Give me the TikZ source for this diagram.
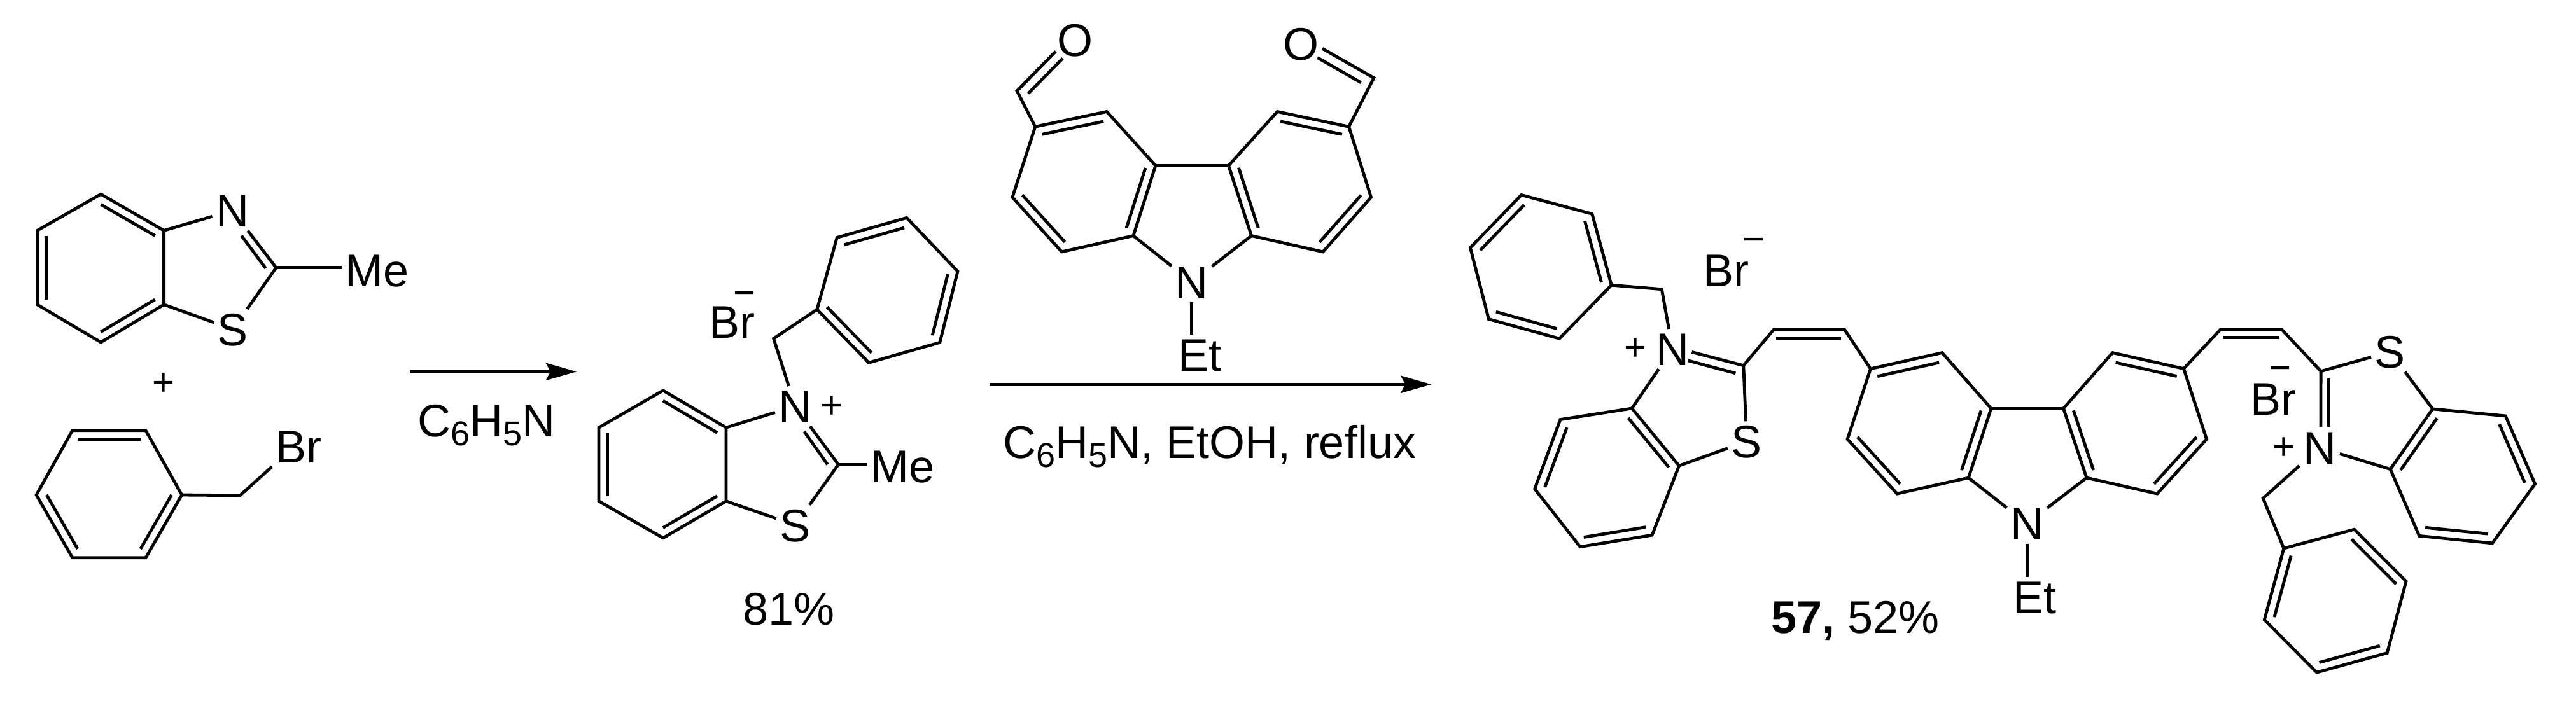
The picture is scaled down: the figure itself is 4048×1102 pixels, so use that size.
\documentclass[tikz,border=0pt]{standalone}
\usepackage{fontspec}
\setmainfont{Liberation Sans}
\usetikzlibrary{calc,arrows.meta}
% inner line of a ring double bond, on the right of a -> b
\newcommand{\dbond}[2]{\draw[bond] ($(#1)!.07!(#2)!3.5pt!-90:(#2)$) -- ($(#2)!.07!(#1)!3.5pt!90:(#1)$);}
\newcommand{\subnum}[1]{\raisebox{-3.5pt}{\fontsize{13.5pt}{14pt}\selectfont #1}}
\begin{document}
\begin{tikzpicture}[x=0.25pt,y=-0.25pt]
\tikzstyle{bond}=[draw, line width=1.2pt, line join=miter]
\tikzstyle{atom}=[font=\fontsize{18pt}{20pt}\selectfont, inner sep=1.25pt, text height=12.9pt, text depth=0pt]
\tikzstyle{charge}=[font=\fontsize{15pt}{16pt}\selectfont, inner sep=0pt, text height=10.6pt, text depth=0pt]
\tikzstyle{note}=[font=\fontsize{18pt}{20pt}\selectfont, inner sep=0pt, text height=12.9pt, text depth=0pt]
\tikzstyle{rxn}=[draw, line width=1.2pt, -{Stealth[length=12pt,width=6.75pt,inset=1.75pt]}]
\useasboundingbox (0,0) rectangle (4048,1102);

% Methylbenzothiazole
\foreach \n/\x/\y in {a1/158.5/305.3, a2/257.6/362.4, a3/257.6/478.8, a4/158.5/538, a5/58.5/478.8, a6/58.5/362.4, ac/433.9/420.8, ai1/379.5/370.6, ai2/417.4/421.6}
  \coordinate (\n) at (\x,\y);
\node[atom] (an) at (365.2,331) {N};
\node[atom] (as) at (366,517.6) {S};
\node[atom] (ame) at (592.4,424.9) {Me};
\draw[bond] (a1) -- (a2) -- (a3) -- (a4) -- (a5) -- (a6) -- cycle;
\dbond{a1}{a2}
\dbond{a3}{a4}
\dbond{a5}{a6}
\draw[bond] (a2) -- (an);
\draw[bond] (a3) -- (as);
\draw[bond] (as) -- (ac);
\draw[bond] (an) -- (ac);
\draw[bond] (ai1) -- (ai2);
\draw[bond] (ac) -- (ac -| ame.west);
\node[charge] (aplus) at (256.7,600) {+};

% Benzyl bromide
\foreach \n/\x/\y in {p1/113.8/676.7, p2/229/676.7, p3/285.7/778, p4/229/876.7, p5/113.8/876.7, p6/57.1/778, pch/377.2/778.8}
  \coordinate (\n) at (\x,\y);
\node[atom] (pbr) at (469.2,702) {Br};
\draw[bond] (p1) -- (p2) -- (p3) -- (p4) -- (p5) -- (p6) -- cycle;
\dbond{p1}{p2}
\dbond{p3}{p4}
\dbond{p5}{p6}
\draw[bond] (p3) -- (pch) -- (pbr.south west);

% First arrow
\coordinate (r1a) at (644,584.3);
\coordinate (r1b) at (906,584.3);
\draw[rxn] (r1a) -- (r1b);
\node[note] (r1t) at (764.5,660.8) {C\subnum{6}H\subnum{5}N};

% Benzothiazolium salt
\foreach \n/\x/\y in {b1/1042/613.9, b2/1141/672.2, b3/1141/787.8, b4/1042/845.7, b5/941/787.8, b6/941/672.2, bc/1317.4/730.2, bi1/1263.8/678.4, bi2/1300.4/730.2, bch/1215.6/532.2, q1/1283.9/486.5, q2/1315.2/373.5, q3/1424.8/342.4, q4/1504.9/426.5, q5/1476.8/538.4, q6/1365.2/570.2}
  \coordinate (\n) at (\x,\y);
\node[atom] (bn) at (1249.6,638.6) {N};
\node[atom] (bs) at (1249.6,825.3) {S};
\node[atom] (bme) at (1418.8,732.7) {Me};
\node[atom] (bbr) at (1150.4,505.3) {Br};
\node[charge] (bminus) at (1169.6,459.2) {−};
\node[charge] (bplus) at (1307,636.3) {+};
\draw[bond] (b1) -- (b2) -- (b3) -- (b4) -- (b5) -- (b6) -- cycle;
\dbond{b1}{b2}
\dbond{b3}{b4}
\dbond{b5}{b6}
\draw[bond] (b2) -- (bn);
\draw[bond] (b3) -- (bs);
\draw[bond] (bs) -- (bc);
\draw[bond] (bn) -- (bc);
\draw[bond] (bi1) -- (bi2);
\draw[bond] (bc) -- (bc -| bme.west);
\draw[bond] (bn) -- (bch) -- (q1);
\draw[bond] (q1) -- (q2) -- (q3) -- (q4) -- (q5) -- (q6) -- cycle;
\dbond{q2}{q3}
\dbond{q4}{q5}
\dbond{q6}{q1}
\node[note] (byield) at (1239.3,956.3) {81\%};

% Carbazole dialdehyde
\foreach \n/\x/\y in {c1/1626.8/199.2, c2/1739.2/175.5, c3/1815.8/260.4, c4/1780.9/370.6, c5/1668.4/395.9, c6/1590.9/310.2, c7/2007.2/175.5, c8/2119.6/199.2, c9/2154.5/310.2, c10/2078.9/395.9, c11/1966.5/370.6, c12/1930.6/260.4, cf1/1598.1/142.9, cf2/2158.9/122.4, co1/1658.9/80.8, ci1/1615.8/146.9, ci2/1669.9/91.8, co2/2078/76.3, ci3/2138.7/129.8, ci4/2070.3/90.6}
  \coordinate (\n) at (\x,\y);
\node[atom] (cn) at (1872.7,443.3) {N};
\node[atom] (cet) at (1885.6,558) {Et};
\node[atom] (co) at (1689.5,62.4) {O};
\node[atom] (cp) at (2044.5,68.6) {O};
\draw[bond] (c1) -- (c2) -- (c3) -- (c4) -- (c5) -- (c6) -- cycle;
\draw[bond] (c7) -- (c8) -- (c9) -- (c10) -- (c11) -- (c12) -- cycle;
\dbond{c1}{c2}
\dbond{c3}{c4}
\dbond{c5}{c6}
\dbond{c7}{c8}
\dbond{c9}{c10}
\dbond{c11}{c12}
\draw[bond] (c3) -- (c12);
\draw[bond] (c4) -- (cn);
\draw[bond] (c11) -- (cn);
\draw[bond] (cn) -- (cn |- cet.north);
\draw[bond] (c1) -- (cf1) -- (co1);
\draw[bond] (ci1) -- (ci2);
\draw[bond] (c8) -- (cf2) -- (co2);
\draw[bond] (ci3) -- (ci4);

% Second arrow
\coordinate (r2a) at (1555,604.3);
\coordinate (r2b) at (2249.3,604.3);
\draw[rxn] (r2a) -- (r2b);
\node[note] (r2t) at (1901,695) {C\subnum{6}H\subnum{5}N, EtOH, reflux};

% Product, left half
\foreach \n/\x/\y in {d1/2390.7/306.5, d2/2501.9/336.3, d3/2532.2/448.2, d4/2450.5/532.2, d5/2339.4/501.6, d6/2310.4/389.4, dch/2611.3/454.7, dc/2739.8/574.7, dq1/2658.6/553.5, dq2/2652.8/566.9, dq3/2727.3/586.9, e1/2564.4/642, e2/2638.5/732.2, e3/2596.1/841.2, e4/2483.1/859.6, e5/2411.7/768.6, e6/2451.9/659.6, dv1/2787.6/517.6, dv2/2898.3/517.6, dv3/2791.2/531.8, dv4/2892.5/531.8}
  \coordinate (\n) at (\x,\y);
\node[atom] (dn) at (2628.2,548.6) {N};
\node[atom] (ds) at (2744.7,693.9) {S};
\node[atom] (dbr) at (2712.6,424.9) {Br};
\node[charge] (dminus) at (2755.9,375.1) {−};
\node[charge] (dplus) at (2570.2,545.3) {+};
\draw[bond] (d1) -- (d2) -- (d3) -- (d4) -- (d5) -- (d6) -- cycle;
\dbond{d2}{d3}
\dbond{d4}{d5}
\dbond{d6}{d1}
\draw[bond] (d3) -- (dch) -- (dn);
\draw[bond] (e1) -- (e2) -- (e3) -- (e4) -- (e5) -- (e6) -- cycle;
\dbond{e1}{e2}
\dbond{e3}{e4}
\dbond{e5}{e6}
\draw[bond] (dn) -- (e1);
\draw[bond] (e2) -- (ds);
\draw[bond] (ds) -- (dc);
\draw[bond] (dq1) -- (dc);
\draw[bond] (dq2) -- (dq3);
\draw[bond] (dv3) -- (dv4);

% Product, carbazole
\foreach \n/\x/\y in {f1/2939.4/579.8, f2/3051.9/554.6, f3/3128.9/642.1, f4/3093.3/751.1, f5/2981.1/776.1, f6/2903.1/690.4, f7/3319.8/554.6, f8/3431.5/579.6, f9/3467.5/690.4, f10/3389.9/776.1, f11/3278.9/751.1, f12/3242.5/642.1}
  \coordinate (\n) at (\x,\y);
\node[atom] (fn) at (3185.1,822.9) {N};
\node[atom] (fet) at (3197,938.9) {Et};
\draw[bond] (dc) -- (dv1) -- (dv2) -- (f1);
\draw[bond] (f1) -- (f2) -- (f3) -- (f4) -- (f5) -- (f6) -- cycle;
\draw[bond] (f7) -- (f8) -- (f9) -- (f10) -- (f11) -- (f12) -- cycle;
\dbond{f1}{f2}
\dbond{f3}{f4}
\dbond{f5}{f6}
\dbond{f7}{f8}
\dbond{f9}{f10}
\dbond{f11}{f12}
\draw[bond] (f3) -- (f12);
\draw[bond] (f4) -- (fn);
\draw[bond] (f11) -- (fn);
\draw[bond] (fn) -- (fn |- fet.north);
\node[note] (fyield) at (2915.5,969.3) {\textbf{57,} 52\%};

% Product, right half
\foreach \n/\x/\y in {g1/3488.8/518.4, g2/3586/518.4, g3/3494.2/530.6, g4/3581.8/530.6, gc/3647.1/583.7, gq1/3646.9/671.4, gq2/3659.5/594.7, gq3/3659.5/671.4, h1/3822.7/642.9, h2/3937.2/653.9, h3/3983.5/760.8, h4/3916.5/853.9, h5/3801.7/842.4, h6/3756.2/737.6, gch/3556.2/783.3, k1/3588.8/862, k2/3699.6/832.2, k3/3781/913.9, k4/3751.2/1026.5, k5/3640.5/1057.1, k6/3558.3/974.3}
  \coordinate (\n) at (\x,\y);
\node[atom] (gn) at (3645,703.7) {N};
\node[atom] (gs) at (3755.8,553.1) {S};
\node[atom] (gbr) at (3572.7,626.5) {Br};
\node[charge] (gminus) at (3582.6,577.1) {−};
\node[charge] (gplus) at (3588.8,700.8) {+};
\draw[bond] (f8) -- (g1) -- (g2) -- (gc);
\draw[bond] (g3) -- (g4);
\draw[bond] (gc) -- (gq1);
\draw[bond] (gq2) -- (gq3);
\draw[bond] (gc) -- (gs);
\draw[bond] (gs) -- (h1);
\draw[bond] (gn) -- (h6);
\draw[bond] (h1) -- (h2) -- (h3) -- (h4) -- (h5) -- (h6) -- cycle;
\dbond{h2}{h3}
\dbond{h4}{h5}
\dbond{h6}{h1}
\draw[bond] (gn) -- (gch) -- (k1);
\draw[bond] (k1) -- (k2) -- (k3) -- (k4) -- (k5) -- (k6) -- cycle;
\dbond{k2}{k3}
\dbond{k4}{k5}
\dbond{k6}{k1}
\end{tikzpicture}
\end{document}
